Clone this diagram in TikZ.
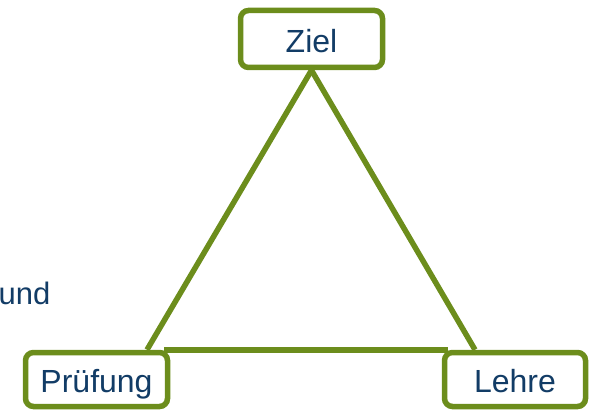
\documentclass[tikz,border=0pt]{standalone}
\usepackage{fontspec}
\setmainfont{Liberation Sans}
\usetikzlibrary{backgrounds}
\definecolor{leaf}{RGB}{108,141,28}
\definecolor{ink}{RGB}{18,60,102}
\begin{document}
\begin{tikzpicture}[x=1pt,y=-1pt,
  corner/.style={draw=leaf, line width=5.5pt, rounded corners=8pt, fill=white,
    inner sep=0pt, text=ink, font=\fontsize{32}{38}\selectfont,
    text height=29.5pt, text depth=3pt},
  edge/.style={draw=leaf, line width=5.5pt}]
\useasboundingbox (0,0) rectangle (591,411);
% the three corner boxes
\node[corner, minimum width=142pt, minimum height=57pt] (ziel) at (311.5,39) {Ziel};
\node[corner, minimum width=142pt, minimum height=54pt] (pruef) at (96.5,379.5) {Prüfung};
\node[corner, minimum width=141pt, minimum height=54pt] (lehre) at (515,379.5) {Lehre};
% triangle sides, drawn behind the boxes
\begin{scope}[on background layer]
\path[edge] (ziel.south) -- ([xshift=50.5pt]pruef.north);
\path[edge] (ziel.south) -- ([xshift=-40pt]lehre.north);
\path[edge] ([xshift=-6pt]pruef.north east) -- ([xshift=6pt]lehre.north west);
\end{scope}
% leftover word at the left margin
\node[anchor=base west, inner sep=0pt, text=ink, font=\fontsize{31}{37}\selectfont] (und) at (-1.5,305) {und};
\end{tikzpicture}
\end{document}
